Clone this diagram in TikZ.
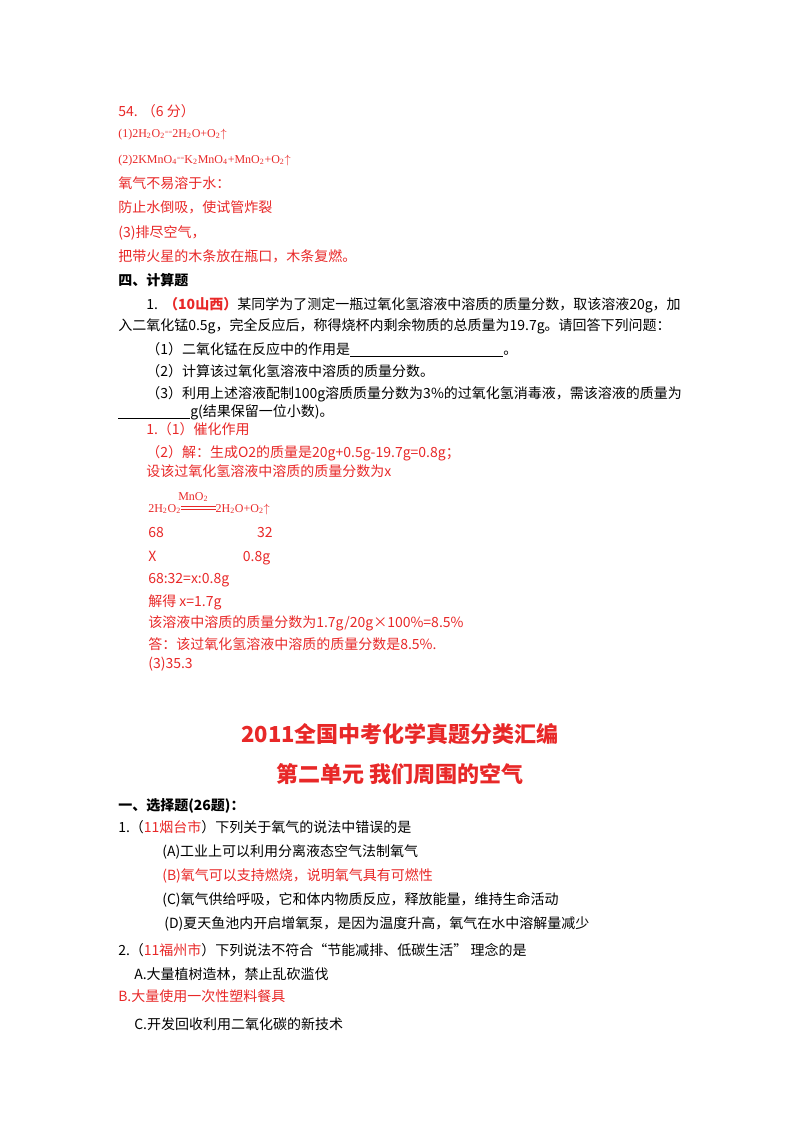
\documentclass[tikz,border=0pt]{standalone}
\usepackage{fontspec}
\setmainfont{Noto Sans CJK SC}
\newfontfamily\serifl{Liberation Serif}
\definecolor{rd}{RGB}{232,40,40}
\newcommand{\sub}[1]{\textsubscript{#1}}
\begin{document}
\begin{tikzpicture}[x=0.75pt,y=-0.75pt,
  t/.style={anchor=base west,inner sep=0pt,font=\fontsize{10.5}{12}\selectfont},
  r/.style={t,text=rd},
  h/.style={anchor=base,inner sep=0pt,font=\fontsize{16.5}{18}\selectfont\bfseries,text=rd}]
\useasboundingbox (0,0) rectangle (800,1132);
\node[r] (l1) at (118,116) {54. （6 分）};
\node[r,font=\serifl\fontsize{9}{10}\selectfont] (l2) at (118,137) {(1)2H\sub{2}O\sub{2}\raisebox{2pt}{\tiny ==}2H\sub{2}O+O\sub{2}$\uparrow$};
\node[r,font=\serifl\fontsize{9}{10}\selectfont] (l3) at (118,163) {(2)2KMnO\sub{4}\raisebox{2pt}{\tiny ==}K\sub{2}MnO\sub{4}+MnO\sub{2}+O\sub{2}$\uparrow$\quad ：};
\node[r] (l4) at (118,188) {氧气不易溶于水：};
\node[r] (l5) at (118,212) {防止水倒吸，使试管炸裂};
\node[r] (l6) at (118,237) {(3)排尽空气，};
\node[r] (l7) at (118,261) {把带火星的木条放在瓶口，木条复燃。};
\node[t,font=\fontsize{10.5}{12}\selectfont\bfseries] (l8) at (118,285) {四、计算题};
\node[t] (l9) at (146,309) {1.\ \ {\color{rd}\bfseries（10山西）}某同学为了测定一瓶过氧化氢溶液中溶质的质量分数，取该溶液20g，加};
\node[t] (l10) at (118,330) {入二氧化锰0.5g，完全反应后，称得烧杯内剩余物质的总质量为19.7g。请回答下列问题：};
\node[t] (l11) at (146,354) {（1）二氧化锰在反应中的作用是\underline{\hspace{115pt}}。};
\node[t] (l12) at (146,376) {（2）计算该过氧化氢溶液中溶质的质量分数。};
\node[t] (l13) at (146,398) {（3）利用上述溶液配制100g溶质质量分数为3\%的过氧化氢消毒液，需该溶液的质量为};
\node[t] (l14) at (118,416) {\underline{\hspace{54pt}}g(结果保留一位小数)。};
\node[r] (l15) at (146,434) {1.（1）催化作用};
\node[r] (l16) at (146,457) {（2）解：生成O2的质量是20g+0.5g-19.7g=0.8g；};
\node[r] (l17) at (146,476) {设该过氧化氢溶液中溶质的质量分数为x};
\node[r,font=\serifl\fontsize{9}{10}\selectfont] (l18) at (148,512) {2H\sub{2}O\sub{2}\rule[2pt]{26pt}{0.6pt}\hspace{-26pt}\rule[4pt]{26pt}{0.6pt}2H\sub{2}O+O\sub{2}$\uparrow$};
\node[r,font=\serifl\fontsize{9}{10}\selectfont] (mn) at (178,500) {MnO\sub{2}};
\node[r] (l19) at (148,537) {68\hspace{70pt}32};
\node[r] (l20) at (148,561) {X\hspace{65pt}0.8g};
\node[r] (l21) at (148,583) {68:32=x:0.8g};
\node[r] (l22) at (148,606) {解得 x=1.7g};
\node[r] (l23) at (148,627) {该溶液中溶质的质量分数为1.7g/20g×100\%=8.5\%};
\node[r] (l24) at (148,649) {答：该过氧化氢溶液中溶质的质量分数是8.5\%.};
\node[r] (l25) at (148,668) {(3)35.3};
\node[h] (ti1) at (400,742) {2011全国中考化学真题分类汇编};
\node[h] (ti2) at (400,782) {第二单元\ 我们周围的空气};
\node[t,font=\fontsize{10.5}{12}\selectfont\bfseries] (s1) at (118,810) {一、选择题(26题)：};
\node[t] (q1) at (118,832) {1.（{\color{rd}11烟台市}）下列关于氧气的说法中错误的是};
\node[t] (a) at (162,856) {(A)工业上可以利用分离液态空气法制氧气};
\node[r] (b) at (162,880) {(B)氧气可以支持燃烧，说明氧气具有可燃性};
\node[t] (c) at (162,904) {(C)氧气供给呼吸，它和体内物质反应，释放能量，维持生命活动};
\node[t] (d) at (164,928) {(D)夏天鱼池内开启增氧泵，是因为温度升高，氧气在水中溶解量减少};
\node[t] (q2) at (118,955) {2.（{\color{rd}11福州市}）下列说法不符合“节能减排、低碳生活” 理念的是};
\node[t] (qa) at (134,979) {A.大量植树造林，禁止乱砍滥伐};
\node[r] (qb) at (118,1001) {B.大量使用一次性塑料餐具};
\node[t] (qc) at (134,1029) {C.开发回收利用二氧化碳的新技术};
\end{tikzpicture}
\end{document}
